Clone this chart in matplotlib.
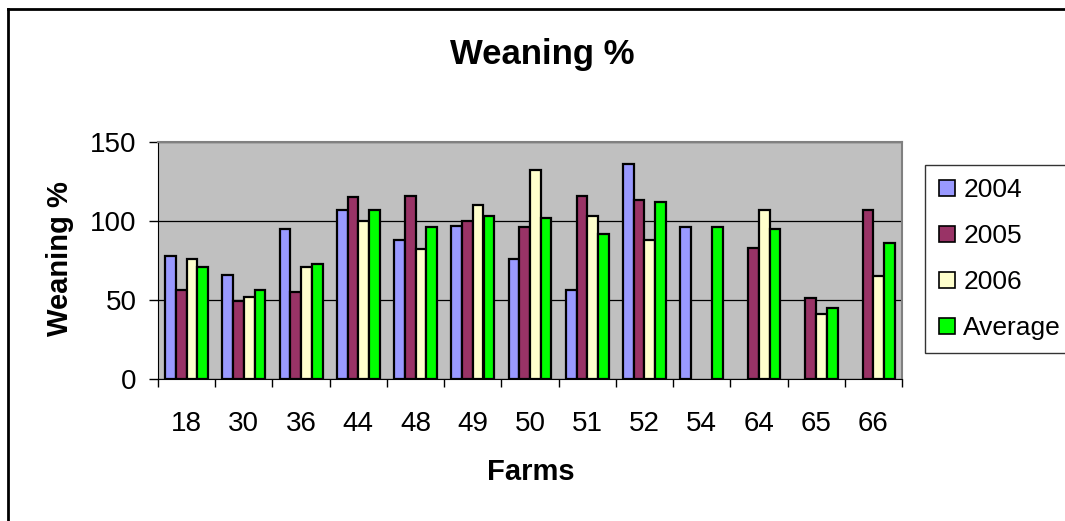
import numpy as np
import matplotlib
matplotlib.use("Agg")
import matplotlib.pyplot as plt
from matplotlib.lines import Line2D

plt.rcParams["font.family"] = ["Liberation Sans", "DejaVu Sans"]

farms = ["18", "30", "36", "44", "48", "49", "50", "51", "52", "54", "64", "65", "66"]
nan = np.nan
y2004 = [78, 66, 95, 107, 88, 97, 76, 56, 136, 96, nan, nan, nan]
y2005 = [56, 49, 55, 115, 116, 100, 96, 116, 113, nan, 83, 51, 107]
y2006 = [76, 52, 71, 100, 82, 110, 132, 103, 88, nan, 107, 41, 65]
average = [71, 56, 73, 107, 96, 103, 102, 92, 112, 96, 95, 45, 86]

series = [("2004", y2004, "#9999FF"), ("2005", y2005, "#993366"),
          ("2006", y2006, "#FFFFCC"), ("Average", average, "#00FF00")]

W, H = 1065, 521
fig = plt.figure(figsize=(W/100, H/100), dpi=100)
ax = fig.add_axes([158/W, 1-378.7/H, (902-158)/W, (378.7-142)/H])
ax.set_facecolor("#C0C0C0")

x = np.arange(len(farms))
w = 0.1875
for i, (name, vals, col) in enumerate(series):
    ax.bar(x - 1.5*w + i*w, vals, width=w, color=col, edgecolor="black",
           linewidth=1.6, label=name, zorder=3)

ax.set_xlim(-0.5, len(farms) - 0.5)
ax.set_ylim(0, 150)
ax.set_yticks([0, 50, 100, 150])
ax.yaxis.grid(True, color="black", linewidth=0.9, zorder=1)
ax.set_axisbelow(True)
ax.set_xticks(x)
ax.set_xticklabels(farms, fontsize=20)
ax.set_xticks(np.arange(-0.5, len(farms)), minor=True)
ax.tick_params(axis="x", which="major", length=0, pad=23)
ax.tick_params(axis="x", which="minor", length=6, width=1, direction="out")
ax.tick_params(axis="y", labelsize=20, length=6.5, width=1, direction="out", pad=9)

for s in ["top", "right"]:
    ax.spines[s].set_color("#808080")
    ax.spines[s].set_linewidth(1.5)
ax.spines["left"].set_color("black")
ax.spines["bottom"].set_color("black")

fig.text(60/W, 1-259/H, "Weaning %", fontsize=21, fontweight="bold",
         rotation=90, ha="center", va="center")
fig.text(531/W, 1-472/H, "Farms", fontsize=21, fontweight="bold",
         ha="center", va="center")
fig.text(542/W, 1-64/H, "Weaning %", fontsize=25, fontweight="bold",
         ha="center", va="baseline")

handles = [Line2D([], [], marker="s", linestyle="none", markersize=11.5,
                  markerfacecolor=c, markeredgecolor="black", markeredgewidth=1.2)
           for _, _, c in series]
leg = fig.legend(handles, [s[0] for s in series], loc="upper left",
                 bbox_to_anchor=(925/W, 1-165/H), fontsize=19,
                 frameon=True, fancybox=False, edgecolor="black",
                 handlelength=0.65, handletextpad=0.3, labelspacing=0.83,
                 borderpad=0.5, borderaxespad=0)
leg.get_frame().set_linewidth(1.0)

# outer chart frame
fig.add_artist(Line2D([8/W, 8/W], [0, 1-9/H], color="black", linewidth=2,
                      transform=fig.transFigure))
fig.add_artist(Line2D([8/W, 1], [1-9/H, 1-9/H], color="black", linewidth=2,
                      transform=fig.transFigure))

fig.savefig("out.png", dpi=100)
